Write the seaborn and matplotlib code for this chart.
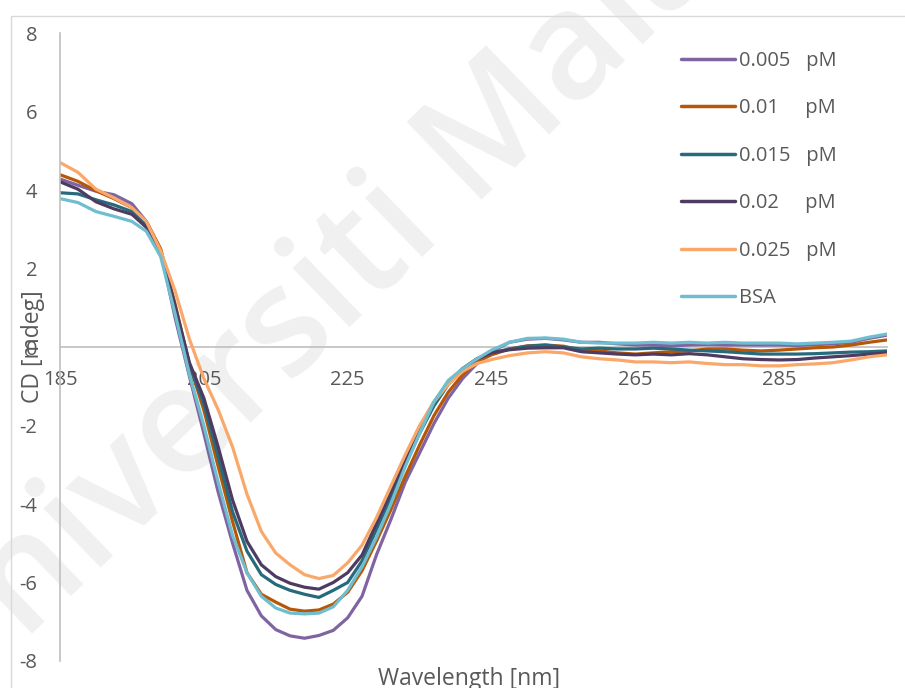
import numpy as np
import pandas as pd
import matplotlib
matplotlib.use("Agg")
import matplotlib.pyplot as plt
from matplotlib.patches import Rectangle
import seaborn as sns

# ---------------- data ----------------
wavelength = [185, 187.5, 190, 192.5, 195,
              197, 199, 201, 203, 205, 207, 209, 211, 213, 215, 217, 219, 221, 223,
              225, 227, 229, 231, 233, 235, 237, 239, 241, 243, 245,
              247.5, 250, 252.5, 255, 257.5, 260, 262.5, 265, 267.5, 270, 272.5,
              275, 277.5, 280, 282.5, 285, 287.5, 290, 292.5, 295, 297.5, 300]

cd_0005 = [4.28, 4.12, 3.97, 3.88, 3.65,
           3.2, 2.45, 0.75, -0.75, -2.2, -3.7, -5.0, -6.2, -6.85, -7.2, -7.36, -7.42, -7.35, -7.22,
           -6.9, -6.35, -5.3, -4.4, -3.45, -2.7, -1.95, -1.3, -0.8, -0.42, -0.12,
           0.12, 0.2, 0.22, 0.18, 0.12, 0.12, 0.08, 0.05, 0.05, 0.03, 0.05,
           0.06, 0.05, 0.05, 0.05, 0.05, 0.04, 0.06, 0.08, 0.12, 0.22, 0.3]

cd_001 = [4.39, 4.22, 3.98, 3.78, 3.55,
          3.2, 2.5, 1.1, -0.45, -1.6, -3.05, -4.45, -5.75, -6.3, -6.5, -6.68, -6.73, -6.7, -6.55,
          -6.25, -5.7, -4.95, -4.15, -3.3, -2.5, -1.75, -1.15, -0.7, -0.38, -0.2,
          -0.05, 0.03, 0.05, 0.02, -0.08, -0.1, -0.15, -0.18, -0.15, -0.12, -0.1,
          -0.05, -0.05, -0.08, -0.1, -0.08, -0.05, -0.02, 0.0, 0.05, 0.12, 0.18]

cd_0015 = [3.93, 3.9, 3.75, 3.62, 3.45,
           3.1, 2.4, 1.0, -0.45, -1.45, -2.8, -4.2, -5.2, -5.8, -6.05, -6.2, -6.3, -6.38, -6.2,
           -6.0, -5.45, -4.65, -3.85, -3.0, -2.2, -1.5, -0.95, -0.55, -0.3, -0.15,
           -0.05, 0.02, 0.05, 0.0, -0.05, -0.03, -0.05, -0.05, -0.03, -0.05, -0.08,
           -0.1, -0.12, -0.15, -0.18, -0.18, -0.18, -0.17, -0.15, -0.13, -0.12, -0.1]

cd_002 = [4.21, 4.02, 3.7, 3.52, 3.38,
          3.05, 2.4, 1.05, -0.4, -1.3, -2.55, -3.9, -4.95, -5.55, -5.85, -6.02, -6.12, -6.17, -6.0,
          -5.75, -5.3, -4.5, -3.7, -2.85, -2.05, -1.4, -0.9, -0.55, -0.3, -0.15,
          -0.07, -0.03, -0.02, -0.02, -0.12, -0.15, -0.18, -0.2, -0.18, -0.2, -0.17,
          -0.2, -0.25, -0.3, -0.32, -0.33, -0.32, -0.28, -0.25, -0.22, -0.18, -0.15]

cd_0025 = [4.7, 4.45, 4.02, 3.8, 3.55,
           3.2, 2.45, 1.43, 0.2, -0.8, -1.6, -2.55, -3.75, -4.7, -5.25, -5.55, -5.8, -5.9, -5.82,
           -5.5, -5.05, -4.35, -3.55, -2.75, -2.0, -1.4, -0.95, -0.62, -0.42, -0.32,
           -0.22, -0.15, -0.12, -0.15, -0.25, -0.3, -0.33, -0.38, -0.38, -0.4, -0.38,
           -0.42, -0.45, -0.45, -0.48, -0.48, -0.45, -0.43, -0.4, -0.33, -0.25, -0.2]

cd_bsa = [3.78, 3.68, 3.45, 3.33, 3.2,
          2.95, 2.3, 0.85, -0.7, -2.0, -3.45, -4.8, -5.75, -6.35, -6.65, -6.78, -6.8, -6.78, -6.62,
          -6.2, -5.6, -4.85, -4.0, -3.05, -2.2, -1.4, -0.85, -0.55, -0.3, -0.08,
          0.12, 0.22, 0.23, 0.2, 0.12, 0.1, 0.1, 0.1, 0.12, 0.1, 0.12,
          0.1, 0.12, 0.1, 0.1, 0.1, 0.08, 0.1, 0.12, 0.15, 0.25, 0.33]

samples = ["0.005", "0.01", "0.015", "0.02", "0.025", "BSA"]
unit = "pM"
series = [cd_0005, cd_001, cd_0015, cd_002, cd_0025, cd_bsa]
colors = ["#8064A2", "#B65708", "#276A7C", "#4D3B62", "#F9A86A", "#6FBED0"]

x_ticks = [185, 205, 225, 245, 265, 285]
y_ticks = [-8, -6, -4, -2, 0, 2, 4, 6, 8]

df = pd.concat([pd.DataFrame({"wavelength": wavelength, "cd": s, "sample": name})
                for name, s in zip(samples, series)], ignore_index=True)

# ---------------- style ----------------
sns.set_theme(style="white")
plt.rcParams["font.family"] = ["Open Sans", "DejaVu Sans"]
plt.rcParams["axes.unicode_minus"] = False
text_col = "#595959"
axis_col = "#BFBFBF"

W, H = 905, 688
fig = plt.figure(figsize=(W / 100, H / 100), dpi=100)
ax = fig.add_axes([60 / W, 1 - 661 / H, 827 / W, 628 / H])
ax.patch.set_alpha(0)

# watermark
ax.text(-0.062, -0.045, "Universiti Malaya", transform=fig.transFigure,
        rotation=44, rotation_mode="anchor", ha="left", va="baseline",
        fontsize=108, fontweight="semibold", color="#F0F0F0", zorder=0.5, clip_on=False)

palette = dict(zip(samples, colors))
sns.lineplot(data=df, x="wavelength", y="cd", hue="sample", hue_order=samples,
             palette=palette, linewidth=2.3, errorbar=None, ax=ax, zorder=2)

ax.set_xlim(185, 300)
ax.set_ylim(-8, 8)
ax.set_xticks(x_ticks)
ax.set_yticks(y_ticks)
ax.set_xticklabels([str(t) for t in x_ticks])
ax.set_yticklabels([str(t) for t in y_ticks])

for s in ["top", "right"]:
    ax.spines[s].set_visible(False)
ax.spines["bottom"].set_position(("data", 0))
ax.spines["bottom"].set_color(axis_col)
ax.spines["left"].set_color(axis_col)
ax.spines["bottom"].set_linewidth(1.2)
ax.spines["left"].set_linewidth(1.2)
ax.spines["bottom"].set_zorder(1)

ax.tick_params(axis="both", length=0, labelcolor=text_col, labelsize=14.5)
ax.tick_params(axis="x", pad=16.5)
ax.tick_params(axis="y", pad=16.5)

ax.set_xlabel("Wavelength [nm]", fontsize=16.5, color=text_col, va="center")
ax.xaxis.set_label_coords(0.495, -0.029)
ax.set_ylabel("CD [mdeg]", fontsize=16.5, color=text_col, va="center")
ax.yaxis.set_label_coords(-0.0326, 0.5)

handles, labels = ax.get_legend_handles_labels()
new_labels = []
for lab in labels:
    if lab == "BSA":
        new_labels.append(lab)
    else:
        pad = "   " if len(lab) == 5 else "     "
        new_labels.append(lab + pad + unit)
leg = ax.legend(handles, new_labels, loc="upper left",
                bbox_to_anchor=(681 / W, 1 - 51 / H), bbox_transform=fig.transFigure,
                frameon=False, handlelength=2.7, handletextpad=0.2, labelspacing=1.36,
                borderpad=0, borderaxespad=0, fontsize=14.5, labelcolor=text_col)
for lh in leg.get_lines():
    lh.set_linewidth(2.5)

# outer chart border
fig.add_artist(Rectangle((11 / W, -0.05), 1.0, (1 - 16 / H) + 0.05,
                         transform=fig.transFigure, fill=False,
                         edgecolor="#D9D9D9", linewidth=1.0))

fig.savefig("out.png", dpi=100)
